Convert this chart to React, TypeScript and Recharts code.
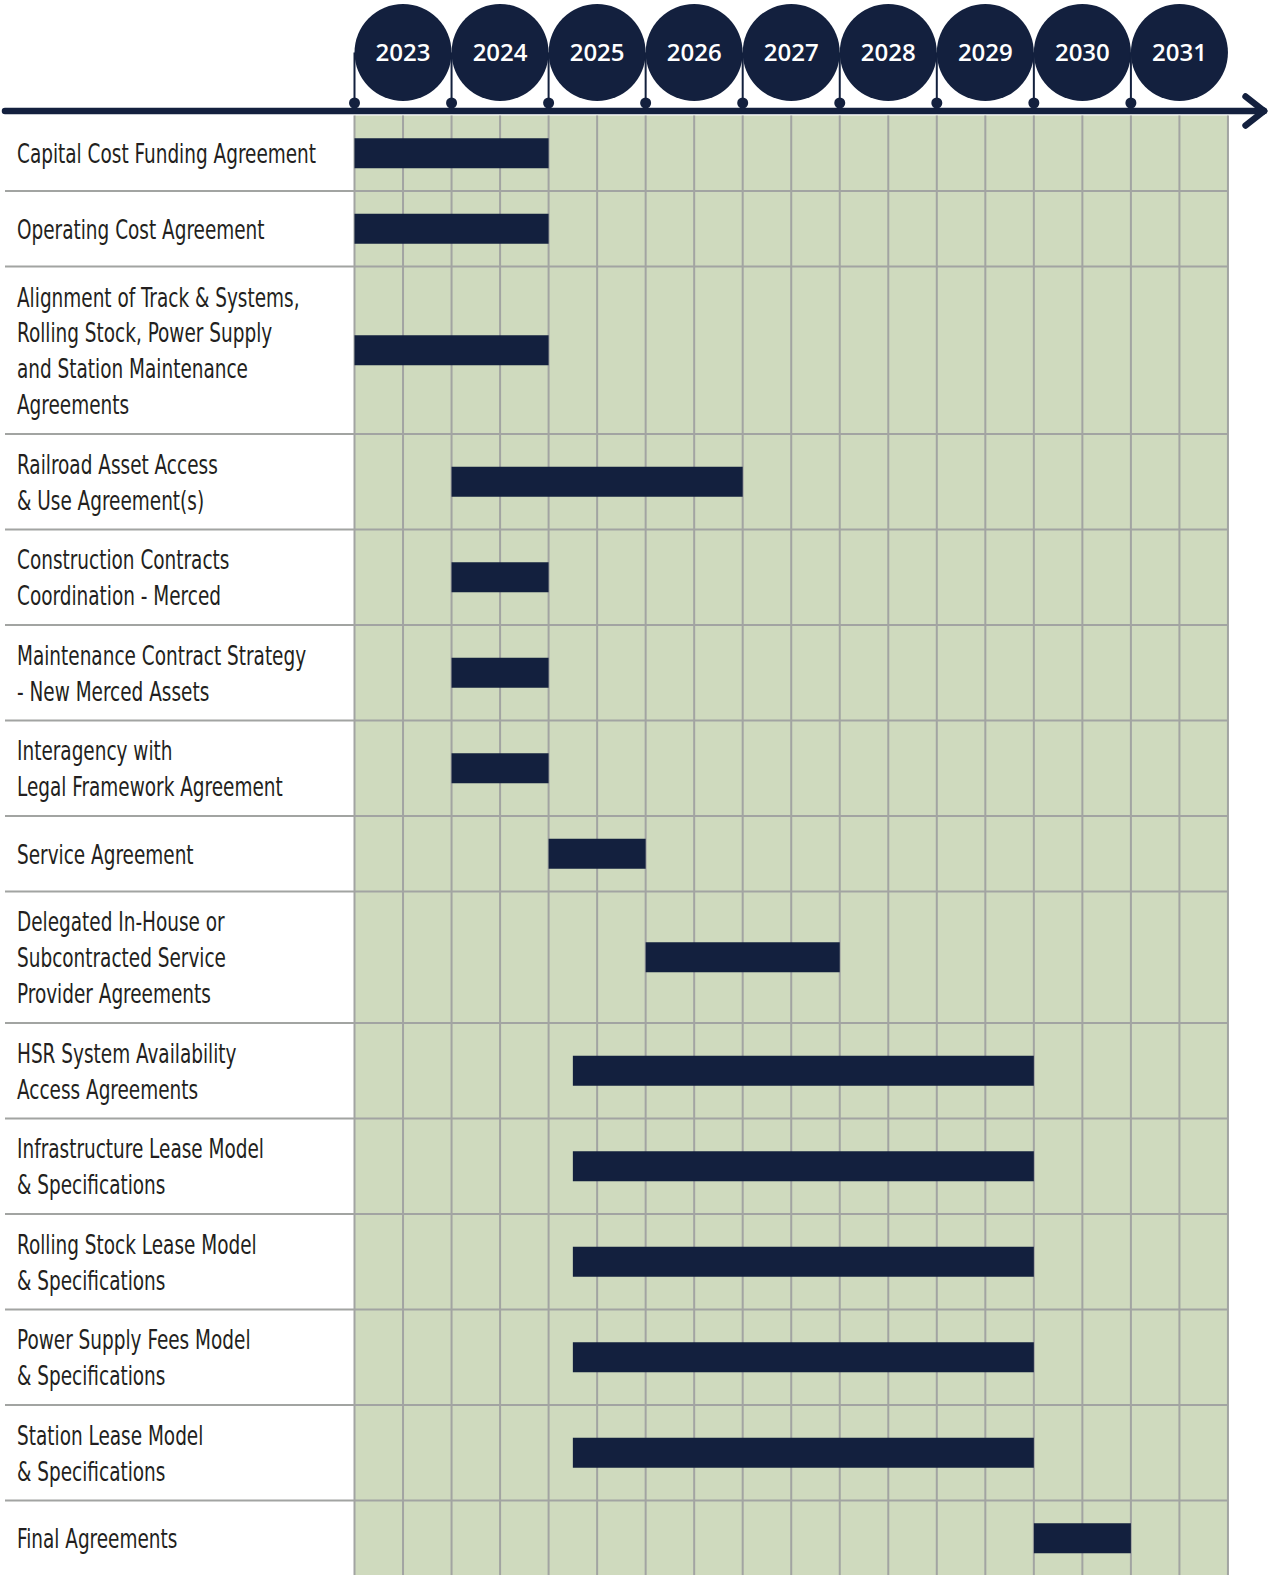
import React from 'react';
import { ComposedChart, XAxis, YAxis, ReferenceArea, ReferenceLine } from 'recharts';

// Gantt rows: label lines, bar start and end (decimal years)
const ROW_LABELS: string[][] = [
  ['Capital Cost Funding Agreement'],
  ['Operating Cost Agreement'],
  ['Alignment of Track & Systems,', 'Rolling Stock, Power Supply', 'and Station Maintenance', 'Agreements'],
  ['Railroad Asset Access', '& Use Agreement(s)'],
  ['Construction Contracts', 'Coordination - Merced'],
  ['Maintenance Contract Strategy', '- New Merced Assets'],
  ['Interagency with', 'Legal Framework Agreement'],
  ['Service Agreement'],
  ['Delegated In-House or', 'Subcontracted Service', 'Provider Agreements'],
  ['HSR System Availability', 'Access Agreements'],
  ['Infrastructure Lease Model', '& Specifications'],
  ['Rolling Stock Lease Model', '& Specifications'],
  ['Power Supply Fees Model', '& Specifications'],
  ['Station Lease Model', '& Specifications'],
  ['Final Agreements'],
];
const BAR_START = [2023, 2023, 2023, 2024, 2024, 2024, 2024, 2025, 2026, 2025.25, 2025.25, 2025.25, 2025.25, 2025.25, 2030];
const BAR_END = [2025, 2025, 2025, 2027, 2025, 2025, 2025, 2026, 2028, 2030, 2030, 2030, 2030, 2030, 2031];
const YEARS = [2023, 2024, 2025, 2026, 2027, 2028, 2029, 2030, 2031];

const NAVY = '#13203e';
const GREEN = '#cfdabe';
const GRID = '#a2a4a2';
const TEXT = '#231f20';

// layout
const CHART_W = 1270;
const PLOT_LEFT = 5;
const PLOT_RIGHT = 1264;
const GRID_LEFT = 354.5;
const YEAR_PX = 97.05;
const AXIS_H = 111;
const AXIS_GAP = 4.5;
const LINE_H = 35.8;
const BAR_H = 30;
const LABEL_SQUEEZE = 0.79;

const FIRST = YEARS[0];
const LAST = YEARS[YEARS.length - 1] + 1;
const X_MIN = FIRST - (GRID_LEFT - PLOT_LEFT) / YEAR_PX;
const X_MAX = FIRST + (PLOT_RIGHT - GRID_LEFT) / YEAR_PX;

const rowHeight = (n: number) => (n === 1 ? 75.5 : 23.5 + 36 * n);
const rowTops: number[] = [];
let acc = 0;
ROW_LABELS.forEach((l) => {
  rowTops.push(acc);
  acc += rowHeight(l.length);
});
const TOTAL = acc;
const rowCenters = ROW_LABELS.map((l, i) => rowTops[i] + rowHeight(l.length) / 2);
const halfYears: number[] = [];
for (let v = FIRST; v <= LAST; v += 0.5) halfYears.push(v);

const CHART_H = AXIS_H + AXIS_GAP + TOTAL;

const YearTick = (props: any) => {
  const { x, y, payload } = props;
  const r = YEAR_PX / 2;
  const cy = y - 58.5;
  return (
    <g>
      <line x1={x} y1={cy} x2={x} y2={y - 8} stroke={NAVY} strokeWidth={2} />
      <circle cx={x + r} cy={cy} r={r} fill={NAVY} />
      <circle cx={x} cy={y - 8} r={5.5} fill={NAVY} />
      <text
        x={x + r}
        y={cy + 8.5}
        textAnchor="middle"
        fill="#ffffff"
        fontSize={24}
        fontWeight={600}
        fontFamily="'Open Sans', sans-serif"
      >
        {payload.value}
      </text>
    </g>
  );
};

// row labels, squeezed to look like the condensed face of the original
const LabelTick = (props: any) => {
  const { x, y, payload } = props;
  const i = rowCenters.indexOf(payload.value);
  const lines = ROW_LABELS[i] || [];
  const first = y - ((lines.length - 1) / 2) * LINE_H + 10;
  return (
    <g transform={`translate(${x + 12} 0) scale(${LABEL_SQUEEZE} 1)`}>
      <text
        x={0}
        y={first}
        fill={TEXT}
        fontSize={26}
        fontFamily="'Liberation Sans Narrow', 'DejaVu Sans Condensed', sans-serif"
      >
        {lines.map((t, k) => (
          <tspan key={k} x={0} y={first + k * LINE_H}>
            {t}
          </tspan>
        ))}
      </text>
    </g>
  );
};

export default function App() {
  const rows = ROW_LABELS.map((l, i) => ({ name: l.join(' '), start: BAR_START[i], end: BAR_END[i], center: rowCenters[i] }));
  return (
    <div style={{ width: CHART_W, height: CHART_H, background: '#ffffff' }}>
      <style>{'body{margin:0}'}</style>
      <ComposedChart
        width={CHART_W}
        height={CHART_H}
        data={rows}
        margin={{ top: 0, right: CHART_W - PLOT_RIGHT, bottom: 0, left: 0 }}
      >
        <XAxis
          dataKey="start"
          type="number"
          orientation="top"
          domain={[X_MIN, X_MAX]}
          allowDataOverflow
          ticks={YEARS}
          interval={0}
          height={AXIS_H}
          tickSize={0}
          tickMargin={0}
          tickLine={false}
          axisLine={{ stroke: NAVY, strokeWidth: 6.5, strokeLinecap: 'round' }}
          tick={<YearTick />}
        />
        <YAxis
          dataKey="center"
          type="number"
          domain={[-AXIS_GAP, TOTAL]}
          allowDataOverflow
          reversed
          ticks={rowCenters}
          interval={0}
          width={PLOT_LEFT}
          tickSize={0}
          tickMargin={0}
          tickLine={false}
          axisLine={false}
          tick={<LabelTick />}
        />
        <ReferenceArea x1={FIRST} x2={LAST} y1={0} y2={TOTAL} fill={GREEN} fillOpacity={1} stroke="none" />
        {halfYears.map((v) => (
          <ReferenceLine
            key={`v-${v}`}
            segment={[{ x: v, y: 0 }, { x: v, y: TOTAL }]}
            stroke={GRID}
            strokeWidth={2}
          />
        ))}
        {rowTops.slice(1).map((t) => (
          <ReferenceLine
            key={`h-${t}`}
            segment={[{ x: X_MIN, y: t }, { x: LAST, y: t }]}
            stroke={GRID}
            strokeWidth={2}
          />
        ))}
        {/* schedule bars: thick segments so they stack above the grid lines */}
        {rows.map((r, i) => (
          <ReferenceLine
            key={`bar-${i}`}
            segment={[{ x: r.start, y: r.center }, { x: r.end, y: r.center }]}
            stroke={NAVY}
            strokeWidth={BAR_H}
            strokeLinecap="butt"
          />
        ))}
        <ReferenceLine
          segment={[{ x: X_MAX - 0.19, y: -AXIS_GAP - 14.5 }, { x: X_MAX, y: -AXIS_GAP }]}
          stroke={NAVY}
          strokeWidth={6.5}
          strokeLinecap="round"
          ifOverflow="visible"
        />
        <ReferenceLine
          segment={[{ x: X_MAX - 0.19, y: -AXIS_GAP + 14.5 }, { x: X_MAX, y: -AXIS_GAP }]}
          stroke={NAVY}
          strokeWidth={6.5}
          strokeLinecap="round"
          ifOverflow="visible"
        />
      </ComposedChart>
    </div>
  );
}
